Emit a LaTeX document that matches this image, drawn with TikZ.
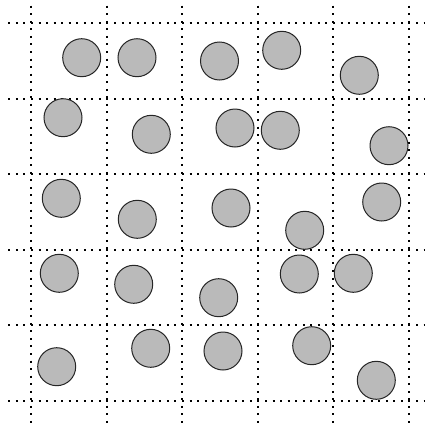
\documentclass[tikz,border=0pt]{standalone}
\begin{document}
\begin{tikzpicture}[x=1pt,y=-1pt,
  gridline/.style={line width=2pt,dash pattern=on 2pt off 5.55pt,black},
  ball/.style={circle,draw=black!85,line width=1pt,fill=black!27,minimum size=38pt,inner sep=0pt}]
\useasboundingbox (0,0) rectangle (424,426);
\foreach \x in {31,106.5,182,257.7,333.3,409}
  \draw[gridline] (\x,5.7) -- (\x,426);
\foreach \y in {23.3,98.7,174,249.7,325.3,401}
  \draw[gridline] (8.3,\y) -- (424,\y);
\node[ball] (b1) at (81.7,57.7) {};
\node[ball] (b2) at (137,57.7) {};
\node[ball] (b3) at (219.5,61) {};
\node[ball] (b4) at (281.7,50.3) {};
\node[ball] (b5) at (359.3,75.3) {};
\node[ball] (b6) at (63,117.7) {};
\node[ball] (b7) at (151.3,134.3) {};
\node[ball] (b8) at (235,128) {};
\node[ball] (b9) at (280.3,130.3) {};
\node[ball] (b10) at (389,145.7) {};
\node[ball] (b11) at (61.3,198.3) {};
\node[ball] (b12) at (137.3,219.3) {};
\node[ball] (b13) at (231,208) {};
\node[ball] (b14) at (304.7,230.3) {};
\node[ball] (b15) at (381.7,202) {};
\node[ball] (b16) at (59.3,273.3) {};
\node[ball] (b17) at (133.7,284.3) {};
\node[ball] (b18) at (218.7,297.7) {};
\node[ball] (b19) at (299.3,274) {};
\node[ball] (b20) at (353.3,273.3) {};
\node[ball] (b21) at (56.7,366.7) {};
\node[ball] (b22) at (150.7,348.3) {};
\node[ball] (b23) at (223,351) {};
\node[ball] (b24) at (311.7,345.7) {};
\node[ball] (b25) at (376.3,380.3) {};
\end{tikzpicture}
\end{document}
